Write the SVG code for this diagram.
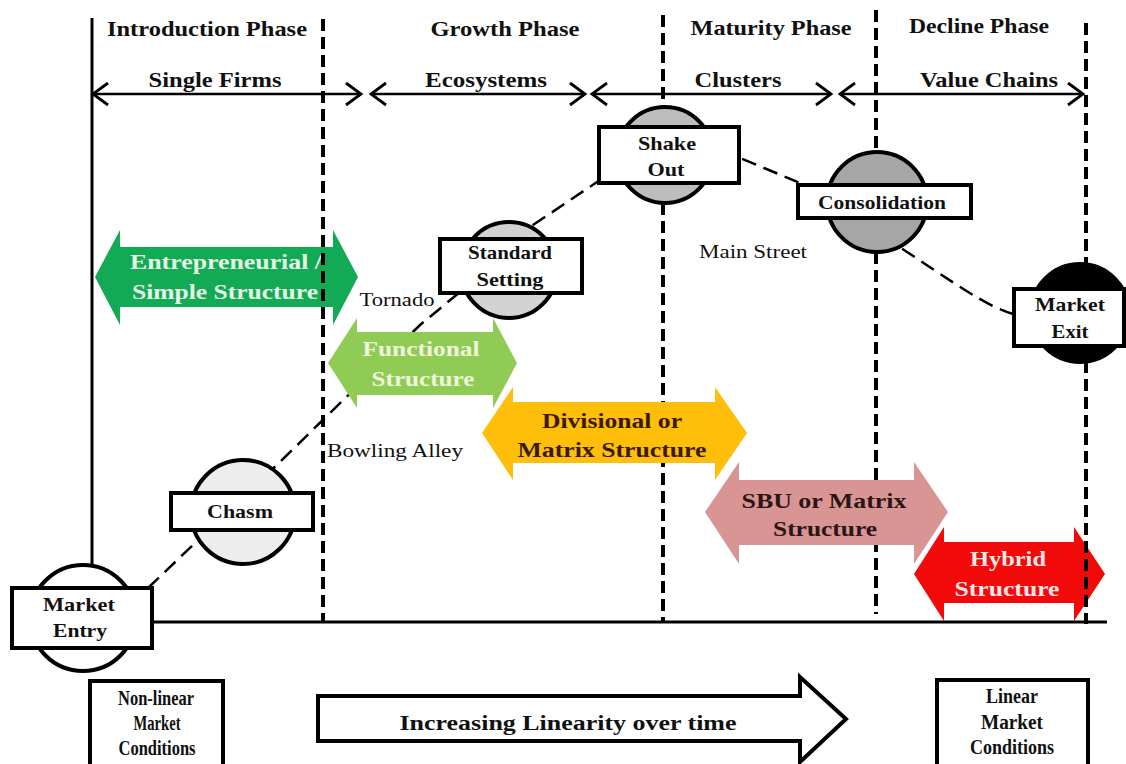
<svg xmlns="http://www.w3.org/2000/svg" width="1126" height="764" viewBox="0 0 1126 764">
  <style>
    .hdr { font-family: "Liberation Serif", "Times New Roman", serif; font-weight: bold; font-size: 21px; fill: #111; text-anchor: middle; }
    .lbl { font-family: "Liberation Serif", "Times New Roman", serif; font-weight: bold; font-size: 19px; fill: #111; text-anchor: middle; }
    .arw { font-family: "Liberation Serif", "Times New Roman", serif; font-weight: bold; font-size: 22px; text-anchor: middle; }
    .note { font-family: "Liberation Serif", "Times New Roman", serif; font-size: 18px; fill: #111; text-anchor: middle; }
    .btm { font-family: "Liberation Serif", "Times New Roman", serif; font-weight: bold; font-size: 20px; fill: #111; text-anchor: middle; }
    .guide { stroke: #000; stroke-width: 4; stroke-dasharray: 12 6; fill: none; }
    .axis { stroke: #000; stroke-width: 3; fill: none; }
    .span { stroke: #000; stroke-width: 2.5; fill: none; marker-start: url(#chev); marker-end: url(#chev); }
    .curve { stroke: #000; stroke-width: 2.5; stroke-dasharray: 15 8; fill: none; }
    .ring { stroke: #000; stroke-width: 4; }
    .box { fill: #fff; stroke: #000; stroke-width: 4; }
  </style>
  <defs>
    <marker id="chev" viewBox="-18 -14 22 28" markerWidth="22" markerHeight="28" refX="0" refY="0" orient="auto-start-reverse" markerUnits="userSpaceOnUse">
      <path d="M-15,-11 L0,0 L-15,11" fill="none" stroke="#000" stroke-width="2.8"/>
    </marker>
  </defs>

  <rect width="1126" height="764" fill="#fff"/>

  <!-- phase titles -->
  <g id="phase-titles">
    <text class="hdr" x="207" y="36" textLength="200" lengthAdjust="spacingAndGlyphs">Introduction Phase</text>
    <text class="hdr" x="505" y="36" textLength="149" lengthAdjust="spacingAndGlyphs">Growth Phase</text>
    <text class="hdr" x="771" y="35" textLength="161" lengthAdjust="spacingAndGlyphs">Maturity Phase</text>
    <text class="hdr" x="979" y="33" textLength="140" lengthAdjust="spacingAndGlyphs">Decline Phase</text>
  </g>

  <!-- organisational scope spans -->
  <g id="scope-spans">
    <text class="hdr" x="215" y="87" textLength="133" lengthAdjust="spacingAndGlyphs">Single Firms</text>
    <text class="hdr" x="486" y="87" textLength="122" lengthAdjust="spacingAndGlyphs">Ecosystems</text>
    <text class="hdr" x="738" y="87" textLength="87" lengthAdjust="spacingAndGlyphs">Clusters</text>
    <text class="hdr" x="989" y="87" textLength="138" lengthAdjust="spacingAndGlyphs">Value Chains</text>
    <line class="span" x1="93" y1="94" x2="361" y2="94"/>
    <line class="span" x1="371" y1="94" x2="585" y2="94"/>
    <line class="span" x1="592" y1="94" x2="831" y2="94"/>
    <line class="span" x1="840" y1="94" x2="1083" y2="94"/>
  </g>

  <!-- axes and phase boundaries behind the structure arrows -->
  <g id="axes">
    <line class="axis" x1="92" y1="18" x2="92" y2="566"/>
    <line class="axis" x1="152" y1="622" x2="1107" y2="622"/>
    <line class="guide" x1="663" y1="15" x2="663" y2="108"/>
    <line class="guide" x1="663" y1="203" x2="663" y2="622"/>
    <line class="guide" x1="876" y1="10" x2="876" y2="153"/>
    <line class="guide" x1="876" y1="252" x2="876" y2="614"/>
  </g>

  <!-- life-cycle curve -->
  <g id="connectors">
    <path class="curve" d="M148,588 L284,458 L420,325 L460,292 L533,225 L600,180 L670,150 L740,158 L800,183 L901,248 C950,280 985,306 1013,314"/>
  </g>

  <!-- organisational structure arrows -->
  <g id="arrow-entrepreneurial">
    <polygon fill="#12AA55" points="95,277 120,230 120,247 333,247 333,230 358,277 333,325 333,307 120,307 120,325"/>
    <text class="arw" fill="#E6F5E4" x="226" y="269" textLength="192" lengthAdjust="spacingAndGlyphs">Entrepreneurial /</text>
    <text class="arw" fill="#E6F5E4" x="225" y="299" textLength="186" lengthAdjust="spacingAndGlyphs">Simple Structure</text>
  </g>
  <g id="arrow-functional">
    <polygon fill="#8FCB55" points="328,363 357,318 357,332 493,332 493,318 517,363 493,408 493,395 357,395 357,408"/>
    <text class="arw" fill="#F0F6D8" x="421" y="356" textLength="117" lengthAdjust="spacingAndGlyphs">Functional</text>
    <text class="arw" fill="#F0F6D8" x="423" y="386" textLength="103" lengthAdjust="spacingAndGlyphs">Structure</text>
  </g>
  <g id="arrow-divisional">
    <polygon fill="#FFBE0A" points="482,433 513,387 513,402 715,402 715,387 747,433 715,480 715,463 513,463 513,480"/>
    <text class="arw" fill="#3A1A05" x="612" y="428" textLength="140" lengthAdjust="spacingAndGlyphs">Divisional or</text>
    <text class="arw" fill="#3A1A05" x="612" y="457" textLength="189" lengthAdjust="spacingAndGlyphs">Matrix Structure</text>
  </g>
  <g id="arrow-sbu">
    <polygon fill="#D89594" points="705,512 739,462 739,480 914,480 914,462 948,512 914,564 914,545 739,545 739,564"/>
    <text class="arw" fill="#2B1515" x="824" y="508" textLength="165" lengthAdjust="spacingAndGlyphs">SBU or Matrix</text>
    <text class="arw" fill="#2B1515" x="825" y="536" textLength="104" lengthAdjust="spacingAndGlyphs">Structure</text>
  </g>
  <g id="arrow-hybrid">
    <polygon fill="#F20A0A" points="914,574 944,527 944,542 1074,542 1074,527 1105,574 1074,621 1074,603 944,603 944,621"/>
    <text class="arw" fill="#FFE6E6" x="1008" y="566" textLength="76" lengthAdjust="spacingAndGlyphs">Hybrid</text>
    <text class="arw" fill="#FFE6E6" x="1007" y="596" textLength="105" lengthAdjust="spacingAndGlyphs">Structure</text>
  </g>

  <!-- phase boundaries drawn over the arrows -->
  <g id="boundaries">
    <line class="guide" x1="323" y1="19" x2="323" y2="622"/>
    <line class="guide" x1="1086" y1="23" x2="1086" y2="266"/>
    <line class="guide" x1="1086" y1="361" x2="1086" y2="624"/>
  </g>

  <!-- curve labels -->
  <g id="stage-labels">
    <text class="note" x="397" y="306" textLength="75" lengthAdjust="spacingAndGlyphs">Tornado</text>
    <text class="note" x="395" y="457" textLength="136" lengthAdjust="spacingAndGlyphs">Bowling Alley</text>
    <text class="note" x="753" y="258" textLength="108" lengthAdjust="spacingAndGlyphs">Main Street</text>
  </g>

  <!-- milestones -->
  <g id="node-market-entry">
    <circle class="ring" cx="83" cy="618" r="53" fill="#fff"/>
    <rect class="box" x="12" y="588" width="140" height="60"/>
    <text class="lbl" x="79" y="611" textLength="72" lengthAdjust="spacingAndGlyphs">Market</text>
    <text class="lbl" x="80" y="637" textLength="54" lengthAdjust="spacingAndGlyphs">Entry</text>
  </g>
  <g id="node-chasm">
    <circle class="ring" cx="243" cy="512" r="52" fill="#EDEDED"/>
    <rect class="box" x="171" y="493" width="142" height="37"/>
    <text class="lbl" x="240" y="518" textLength="66" lengthAdjust="spacingAndGlyphs">Chasm</text>
  </g>
  <g id="node-standard-setting">
    <circle class="ring" cx="509" cy="270" r="48" fill="#D3D3D3"/>
    <rect class="box" x="440" y="239" width="142" height="54"/>
    <text class="lbl" x="510" y="259" textLength="84" lengthAdjust="spacingAndGlyphs">Standard</text>
    <text class="lbl" x="510" y="286" textLength="67" lengthAdjust="spacingAndGlyphs">Setting</text>
  </g>
  <g id="node-shake-out">
    <circle class="ring" cx="665" cy="155" r="48" fill="#BDBDBD"/>
    <rect class="box" x="599" y="127" width="140" height="56"/>
    <text class="lbl" x="667" y="150" textLength="58" lengthAdjust="spacingAndGlyphs">Shake</text>
    <text class="lbl" x="666" y="176" textLength="37" lengthAdjust="spacingAndGlyphs">Out</text>
  </g>
  <g id="node-consolidation">
    <circle class="ring" cx="877" cy="202" r="50" fill="#A6A6A6"/>
    <rect class="box" x="798" y="185" width="173" height="33"/>
    <text class="lbl" x="882" y="209" textLength="128" lengthAdjust="spacingAndGlyphs">Consolidation</text>
  </g>
  <g id="node-market-exit">
    <circle class="ring" cx="1080" cy="313" r="49" fill="#000"/>
    <rect class="box" x="1014" y="289" width="110" height="57"/>
    <text class="lbl" x="1070" y="311" textLength="70" lengthAdjust="spacingAndGlyphs">Market</text>
    <text class="lbl" x="1070" y="338" textLength="37" lengthAdjust="spacingAndGlyphs">Exit</text>
  </g>

  <!-- market conditions scale -->
  <g id="node-nonlinear">
    <rect class="box" x="90" y="681" width="133" height="95"/>
    <text class="btm" x="156" y="705" textLength="76" lengthAdjust="spacingAndGlyphs">Non-linear</text>
    <text class="btm" x="157" y="730" textLength="47" lengthAdjust="spacingAndGlyphs">Market</text>
    <text class="btm" x="157" y="755" textLength="77" lengthAdjust="spacingAndGlyphs">Conditions</text>
  </g>
  <g id="node-linearity-arrow">
    <polygon points="318,696 800,696 800,677 846,719 800,762 800,741 318,741" fill="#fff" stroke="#000" stroke-width="4" stroke-linejoin="miter"/>
    <text class="btm" x="568" y="730" font-size="24" textLength="337" lengthAdjust="spacingAndGlyphs">Increasing Linearity over time</text>
  </g>
  <g id="node-linear">
    <rect class="box" x="937" y="680" width="151" height="96"/>
    <text class="btm" x="1012" y="703" textLength="52" lengthAdjust="spacingAndGlyphs">Linear</text>
    <text class="btm" x="1012" y="729" textLength="62" lengthAdjust="spacingAndGlyphs">Market</text>
    <text class="btm" x="1012" y="754" textLength="84" lengthAdjust="spacingAndGlyphs">Conditions</text>
  </g>
</svg>
